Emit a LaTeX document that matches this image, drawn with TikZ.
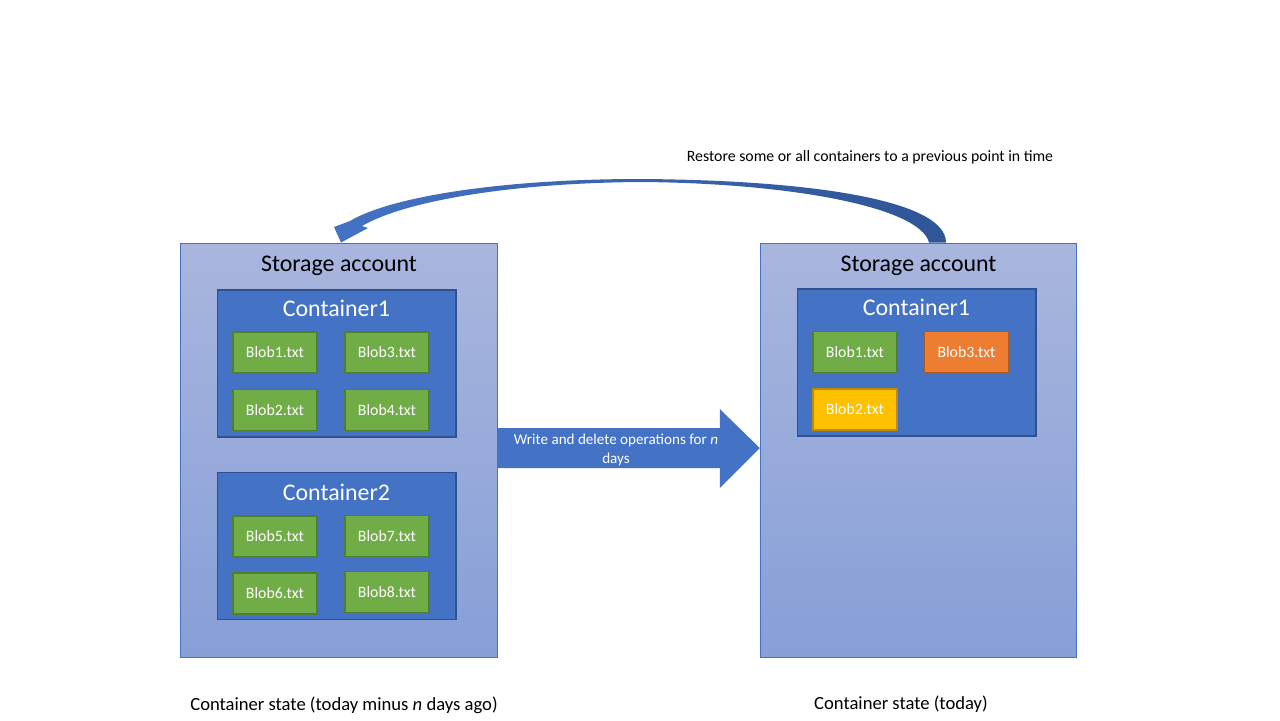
\documentclass[tikz,border=0pt]{standalone}
\usepackage{fontspec}
\setmainfont{Carlito}
\usepackage{tikz}
\usetikzlibrary{calc}
\definecolor{bleu}{RGB}{68,114,196}
\definecolor{bleufonce}{RGB}{47,82,143}
\definecolor{bleusombre}{RGB}{47,85,151}
\definecolor{compteclair}{RGB}{169,182,222}
\definecolor{comptefonce}{RGB}{135,159,215}
\definecolor{vert}{RGB}{112,173,71}
\definecolor{vertfonce}{RGB}{80,126,50}
\definecolor{orange}{RGB}{237,125,49}
\definecolor{orangefonce}{RGB}{174,90,33}
\definecolor{jaune}{RGB}{255,192,0}
\definecolor{jaunefonce}{RGB}{188,140,0}

\begin{document}
\begin{tikzpicture}[x=0.02cm, y=-0.02cm,
				compte/.style={draw=bleu, line width=0.6pt, top color=compteclair, bottom color=comptefonce, inner sep=0pt, minimum width=6.33cm, minimum height=8.3cm},
				conteneur/.style={draw=bleufonce, fill=bleu, line width=0.6pt, inner sep=0pt, minimum width=4.78cm, minimum height=2.94cm},
				blob/.style={draw=vertfonce, fill=vert, line width=0.6pt, text=white, font=\fontsize{9}{10}\selectfont, inner sep=0pt, minimum width=1.68cm, minimum height=0.82cm},
				titre/.style={font=\fontsize{13.6}{15}\selectfont}]
				\useasboundingbox (0,0) rectangle (1280,720);
				% comptes de stockage
				\node[compte] (compteG) at (339,450.5) {};
				\node[compte] (compteD) at (918.5,450.5) {};
				\node[titre] (titreG) at (339,265.5) {Storage account};
				\node[titre] (titreD) at (918.5,265.5) {Storage account};
				% conteneurs a gauche
				\node[conteneur] (c1G) at (336.5,363.5) {};
				\node[titre, text=white] (nomc1G) at (336.5,308.5) {Container1};
				\node[blob] (b1G) at (275,352.5) {Blob1.txt};
				\node[blob] (b3G) at (387,352.5) {Blob3.txt};
				\node[blob] (b2G) at (275,410) {Blob2.txt};
				\node[blob] (b4G) at (387,410) {Blob4.txt};
				\node[conteneur] (c2G) at (336.5,546) {};
				\node[titre, text=white] (nomc2G) at (336.5,492.5) {Container2};
				\node[blob] (b5G) at (275,536.5) {Blob5.txt};
				\node[blob] (b7G) at (387,536) {Blob7.txt};
				\node[blob] (b6G) at (275,593.5) {Blob6.txt};
				\node[blob] (b8G) at (387,592) {Blob8.txt};
				% conteneur a droite
				\node[conteneur] (c1D) at (916.5,362.5) {};
				\node[titre, text=white] (nomc1D) at (916.5,307.5) {Container1};
				\node[blob] (b1D) at (855,352) {Blob1.txt};
				\node[blob, draw=orangefonce, fill=orange] (b3D) at (966.5,352) {Blob3.txt};
				\node[blob, draw=jaunefonce, fill=jaune] (b2D) at (855,409.5) {Blob2.txt};
				% fleche ecriture
				\coordinate (depart) at (compteG.east |- 0,448);
				\coordinate (pointe) at (compteD.west |- 0,448);
				\fill[bleu] ($(depart)+(0,-20)$) -- ($(pointe)+(-40,-20)$) -- ($(pointe)+(-40,-39)$)
				-- (pointe) -- ($(pointe)+(-40,40)$) -- ($(pointe)+(-40,20)$) -- ($(depart)+(0,20)$) -- cycle;
				\node[text=white, font=\fontsize{8.6}{10.8}\selectfont, align=center] (ops) at (616,450)
				{Write and delete operations for \textit{n}\\days};
				% fleche restauration
				\coordinate (retourD) at (compteD.north -| 937.5,0);
				\coordinate (retourG) at (compteG.north -| 341,0);
				\shade[left color=bleu, right color=bleusombre]
				($(retourD)+(8.5,0)$) .. controls (946,200) and (810,180) .. (640,179)
				.. controls (500,179) and (390,197) .. (350,221)
				-- (334,227) -- (retourG) -- (368,228) -- (362,226)
				.. controls (405,201) and (510,183) .. (640,182)
				.. controls (790,183) and (920,207) .. ($(retourD)+(-8.5,0)$) -- cycle;
				% legendes
				\node[font=\fontsize{9}{11}\selectfont] (restaure) at (870,157) {Restore some or all containers to a previous point in time};
				\node[font=\fontsize{10.6}{12}\selectfont] (etatG) at (344,705) {Container state (today minus \textit{n} days ago)};
				\node[font=\fontsize{10.6}{12}\selectfont] (etatD) at (901,704) {Container state (today)};
\end{tikzpicture}
\end{document}
